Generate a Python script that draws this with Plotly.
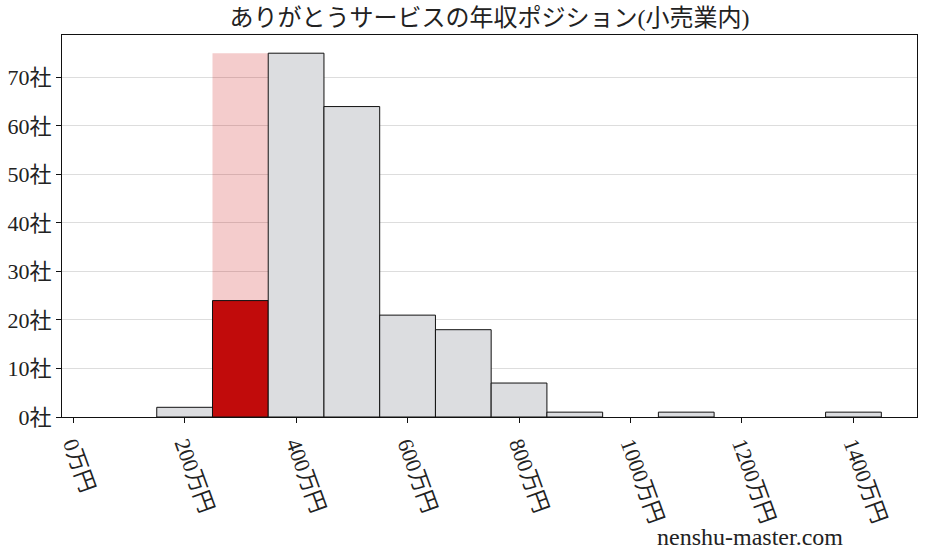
import plotly.graph_objects as go

# annual income histogram (bins of 100万円, centered values)
bin_centers = [200, 300, 400, 500, 600, 700, 800, 900, 1000, 1100, 1200, 1300, 1400]
counts = [2, 24, 75, 64, 21, 18, 7, 1, 0, 1, 0, 0, 1]
company_bin = 300  # ありがとうサービス's bin

x_ticks = [0, 200, 400, 600, 800, 1000, 1200, 1400]
x_labels = [f"{v}万円" for v in x_ticks]
y_ticks = [0, 10, 20, 30, 40, 50, 60, 70]
y_labels = [f"{v}社" for v in y_ticks]

font_family = "Liberation Serif, Noto Sans CJK JP"

bar_colors = ["#c10b0b" if c == company_bin else "#dcdde0" for c in bin_centers]
edge_widths = [1 if n > 0 else 0 for n in counts]

fig = go.Figure()

# pink highlight column behind the company's bin
fig.add_trace(go.Bar(
    x=[company_bin], y=[max(counts)], width=100,
    marker=dict(color="rgba(200,0,0,0.2)", line=dict(width=0)),
    hoverinfo="skip", showlegend=False,
))

fig.add_trace(go.Bar(
    x=bin_centers, y=counts, width=100,
    marker=dict(color=bar_colors, line=dict(color="#111111", width=edge_widths)),
    showlegend=False,
))

fig.update_layout(
    width=927, height=557,
    margin=dict(l=62, r=10, t=35, b=140),
    barmode="overlay",
    plot_bgcolor="white", paper_bgcolor="white",
    font=dict(family=font_family, size=20, color="#222222"),
    title=dict(
        text="ありがとうサービスの年収ポジション(小売業内)",
        x=0.528, xanchor="center", y=0.968, yanchor="middle",
        font=dict(size=24, family=font_family, color="#222222"),
    ),
)

fig.update_xaxes(
    range=[-20, 1514], automargin=False,
    tickvals=x_ticks, ticktext=x_labels, tickangle=70,
    showgrid=False, zeroline=False,
    showline=True, linecolor="#111111", linewidth=1, mirror=True,
    ticks="outside", ticklen=5, tickcolor="#111111",
    tickfont=dict(size=22),
)

fig.update_yaxes(
    range=[0, 78.75], automargin=False,
    tickvals=y_ticks, ticktext=y_labels,
    showgrid=True, gridcolor="#dddddd", gridwidth=1, zeroline=False,
    showline=True, linecolor="#111111", linewidth=1, mirror=True,
    ticks="outside", ticklen=5, tickcolor="#111111",
    tickfont=dict(size=22),
)

fig.add_annotation(
    text="nenshu-master.com", xref="paper", yref="paper",
    x=0.805, y=-0.314, xanchor="center", yanchor="middle",
    showarrow=False, font=dict(size=24, family=font_family, color="#222222"),
)

# drop the default page margin so the figure sits at the window's corner
fig.write_html(
    "out.html",
    config={"displayModeBar": False},
    post_script="document.body.style.margin='0';",
)
